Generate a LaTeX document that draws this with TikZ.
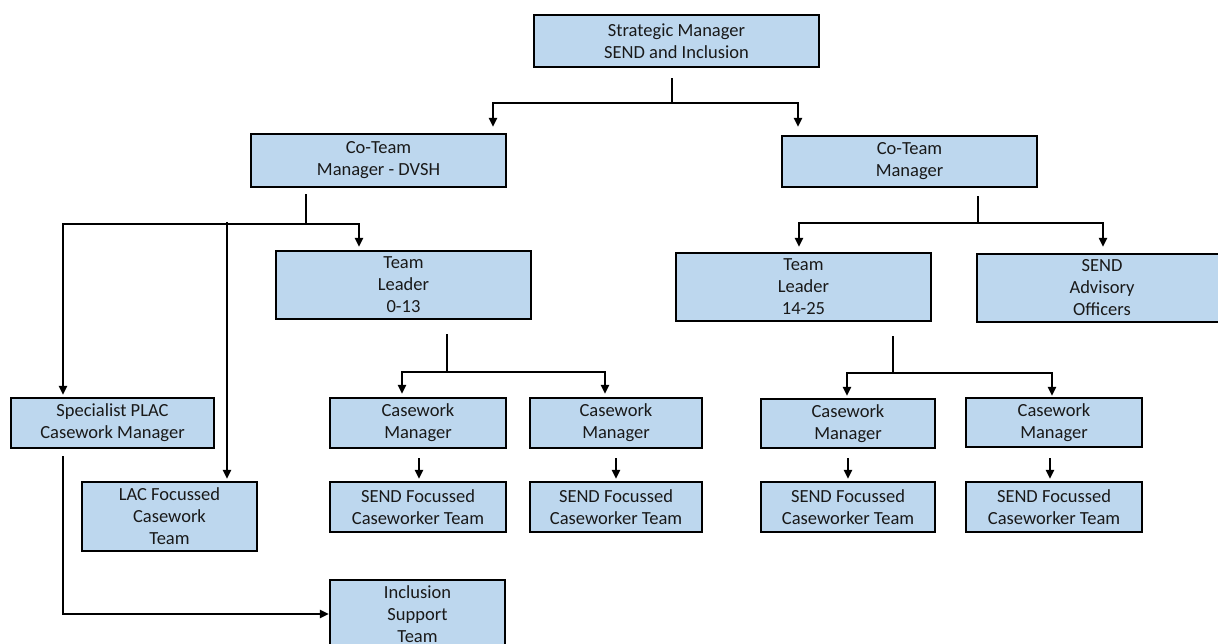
\documentclass[tikz,border=0pt]{standalone}
\usepackage{fontspec}
\setmainfont{Carlito}
\usetikzlibrary{arrows.meta,calc}
\definecolor{boxfill}{HTML}{BDD7EE}
\begin{document}
\begin{tikzpicture}[x=1pt,y=-1pt,
  box/.style={draw=black, line width=2.2pt, fill=boxfill, inner sep=0pt,
    align=center, font=\fontsize{18.5}{22}\selectfont, text=black!90},
  ln/.style={line width=2pt, black},
  arr/.style={line width=2pt, black, -{Triangle[width=8pt,length=9pt]}}]
\useasboundingbox (0,0) rectangle (1218,644);
\fill[white] (0,0) rectangle (1218,644);

% nodes (centre, width, height in pixels)
\node[box, minimum width=285pt, minimum height=52pt] (sm)  at (676.5,41)  {Strategic Manager\\SEND and Inclusion};
\node[box, minimum width=255pt, minimum height=53pt] (ctd) at (378.5,160.5) {Co-Team\\Manager - DVSH};
\node[box, minimum width=255pt, minimum height=51pt] (ctm) at (909.5,161.5) {Co-Team\\Manager};
\node[box, minimum width=255pt, minimum height=68pt] (tl1) at (403.5,285) {Team\\Leader\\0-13};
\node[box, minimum width=255pt, minimum height=68pt] (tl2) at (803.5,287) {Team\\Leader\\14-25};
\node[box, minimum width=250pt, minimum height=68pt] (adv) at (1102,288) {SEND\\Advisory\\Officers};
\node[box, minimum width=203pt, minimum height=50pt] (spm) at (112.5,423) {Specialist PLAC\\Casework Manager};
\node[box, minimum width=175pt, minimum height=69pt] (lac) at (169.5,516.5) {LAC Focussed\\Casework\\Team};
\node[box, minimum width=176pt, minimum height=50pt] (cw1) at (418,423) {Casework\\Manager};
\node[box, minimum width=172pt, minimum height=50pt] (cw2) at (616,423) {Casework\\Manager};
\node[box, minimum width=176pt, minimum height=50pt] (sf1) at (418,507) {SEND Focussed\\Caseworker Team};
\node[box, minimum width=172pt, minimum height=50pt] (sf2) at (616,507) {SEND Focussed\\Caseworker Team};
\node[box, minimum width=174pt, minimum height=49pt] (cw3) at (848,423.5) {Casework\\Manager};
\node[box, minimum width=176pt, minimum height=49pt] (cw4) at (1054,422.5) {Casework\\Manager};
\node[box, minimum width=174pt, minimum height=50pt] (sf3) at (848,507) {SEND Focussed\\Caseworker Team};
\node[box, minimum width=176pt, minimum height=50pt] (sf4) at (1054,507) {SEND Focussed\\Caseworker Team};
\node[box, minimum width=175pt, minimum height=68pt] (inc) at (417.5,614) {Inclusion\\Support\\Team};

% junction points
\coordinate (j1) at (672,103);
\coordinate (j2) at (306,224);
\coordinate (j3) at (978,223);
\coordinate (j4) at (447,372);
\coordinate (j5) at (893,373);
\coordinate (lacin) at ($(lac.north)+(57.5,-2)$);

% connectors
\draw[ln] ($(sm.south)+(-4.5,10)$) -- (j1);
\draw[arr] (j1) -| ($(ctd.north)+(114.5,-6)$);
\draw[arr] (j1) -| ($(ctm.north)+(-111.5,-8)$);

\draw[ln] ($(ctd.south)+(-72.5,6)$) -- (j2);
\draw[arr] (j2) -| ($(tl1.north)+(-44.5,-3)$);
\draw[arr] (j2) -| ($(spm.north)+(-49.5,-2)$);
\draw[arr] ([yshift=2pt]lacin |- j2) -- (lacin);

\draw[ln] ($(ctm.south)+(68.5,8)$) -- (j3);
\draw[arr] (j3) -| ($(tl2.north)+(-4.5,-5)$);
\draw[arr] (j3) -| ($(adv.north)+(1,-6)$);

\draw[ln] ($(tl1.south)+(43.5,14)$) -- (j4);
\draw[arr] (j4) -| ($(cw1.north)+(-16,-3)$);
\draw[arr] (j4) -| ($(cw2.north)+(-11,-3)$);

\draw[ln] ($(tl2.south)+(89.5,14)$) -- (j5);
\draw[arr] (j5) -| ($(cw3.north)+(-1,-2)$);
\draw[arr] (j5) -| ($(cw4.north)+(-2,-1)$);

\draw[arr] ($(cw1.south)+(1,9)$) -- ($(sf1.north)+(1,-2)$);
\draw[arr] ($(cw2.south)+(0,9)$) -- ($(sf2.north)+(0,-2)$);
\draw[arr] ($(cw3.south)+(0,9)$) -- ($(sf3.north)+(0,-2)$);
\draw[arr] ($(cw4.south)+(-4,10)$) -- ($(sf4.north)+(-4,-2)$);

\draw[arr] ($(spm.south)+(-49.5,7)$) |- (inc.west);
\end{tikzpicture}
\end{document}
